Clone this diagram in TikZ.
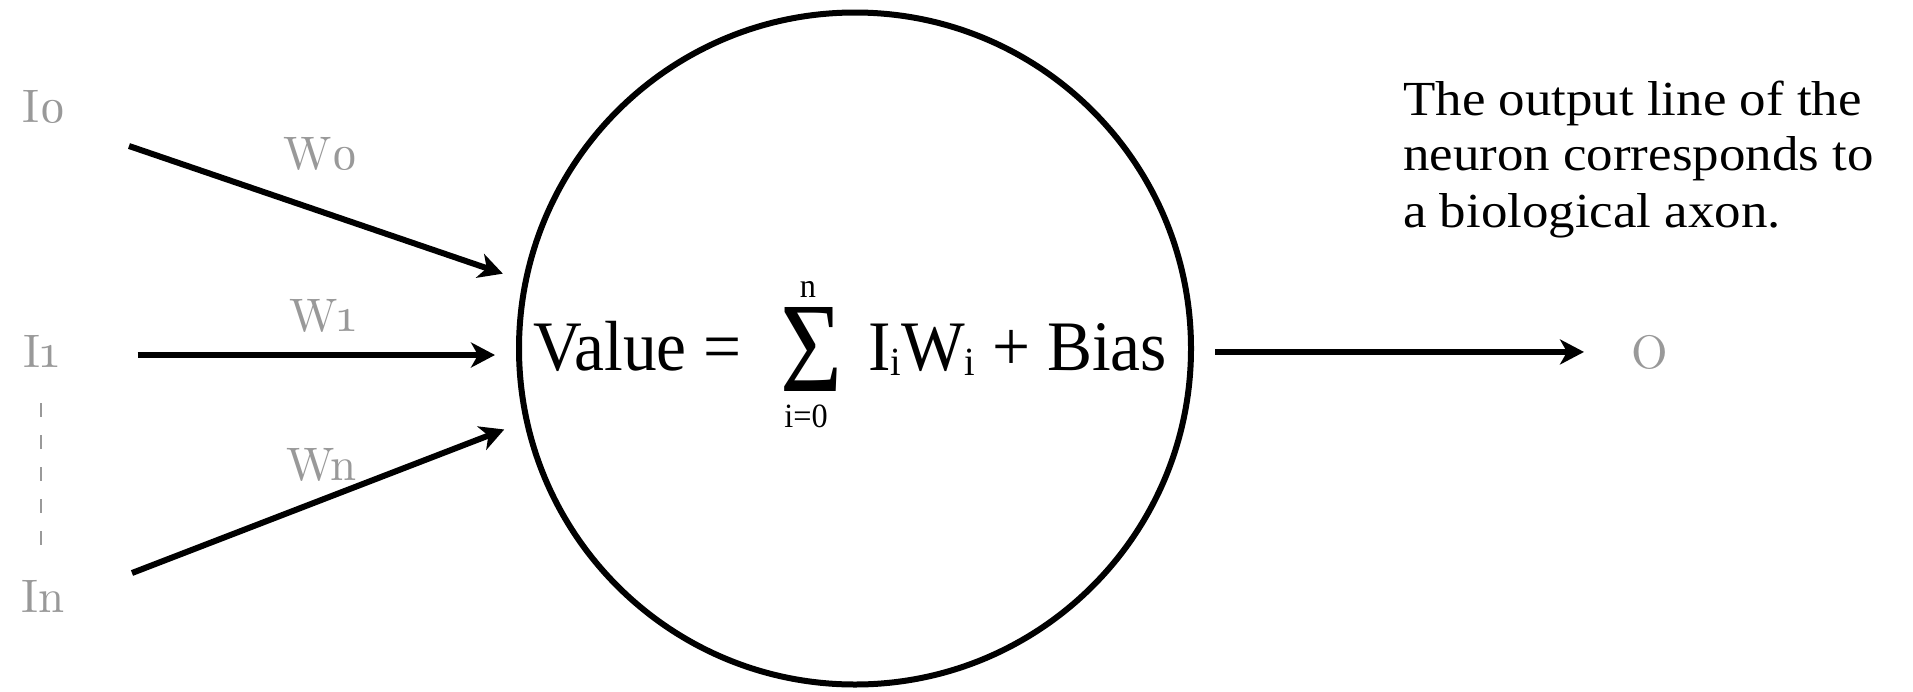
\documentclass[tikz,border=0pt]{standalone}
\usepackage{fontspec}
\usepackage{graphicx}
\usetikzlibrary{arrows.meta}
\setmainfont{Liberation Serif}
\newfontfamily\labfont{lmroman10-regular.otf}[Numbers=OldStyle]
\newfontfamily\notefont{Liberation Serif}[FakeStretch=1.08]
\newfontfamily\formfont{Liberation Serif}[FakeStretch=0.95]
\definecolor{labgray}{RGB}{153,153,153}
\newcommand{\subi}{\raisebox{-5pt}{\fontsize{40}{40}\selectfont i}}
\begin{document}
\begin{tikzpicture}[x=1pt,y=-1pt,
  lab/.style={text=labgray, font=\labfont\fontsize{47}{50}\selectfont, inner sep=0pt, anchor=base west},
  note/.style={text=black, font=\notefont\fontsize{49}{56}\selectfont, inner sep=0pt, anchor=base west},
  ftext/.style={font=\formfont\fontsize{71}{80}\selectfont, inner sep=0pt},
  subf/.style={font=\formfont\fontsize{34}{36}\selectfont, inner sep=0pt, anchor=base},
  arr/.style={line width=6pt, -{Stealth[length=24pt,width=25pt,inset=7pt]}},
  dashln/.style={draw=labgray, line width=2.5pt, dash pattern=on 14pt off 18pt},
  neuron/.style={draw, circle, line width=6pt, minimum size=672pt, inner sep=0pt, outer sep=24pt}]
\useasboundingbox (0,0) rectangle (1913,691);
% neuron
\node[neuron] (c) at (855,348.5) {};
% formula
\node[ftext, anchor=base west] (val) at (533,370) {Value =};
\node[inner sep=0pt] (sig) at (811,349.5) {\resizebox{62pt}{84pt}{Σ}};
\node[subf] (up) at (808,297) {n};
\node[subf] (lo) at (806,427) {i=0};
\node[ftext, anchor=base west] (rest) at (868,370) {I\subi W\subi{} + Bias};
% inputs
\node[lab] (i0) at (22,122) {I0};
\node[lab] (i1) at (23,367) {I1};
\node[lab] (in) at (21,612) {In};
\node[lab] (w0) at (283,169) {W0};
\node[lab] (w1) at (289,331) {W1};
\node[lab] (wn) at (286,480) {Wn};
\coordinate (s0) at (129,146);
\coordinate (s1) at (137.5,355);
\coordinate (sn) at (132,573);
\draw[arr] (s0) -- (c.168);
\draw[arr] (s1) -- (c.west |- s1);
\draw[arr] (sn) -- (c.193.7);
\draw[dashln, shorten <=36pt, shorten >=34pt] (i1.south) -- (i1.south |- in.north);
% output
\node[lab] (o) at (1631,368) {O};
\draw[arr, shorten >=47pt] (c.east |- o.west) -- (o.west);
% note
\node[note] (n1) at (1403,115) {The output line of the};
\node[note] (n2) at (1403,170) {neuron corresponds to};
\node[note] (n3) at (1403,227) {a biological axon.};
\end{tikzpicture}
\end{document}
